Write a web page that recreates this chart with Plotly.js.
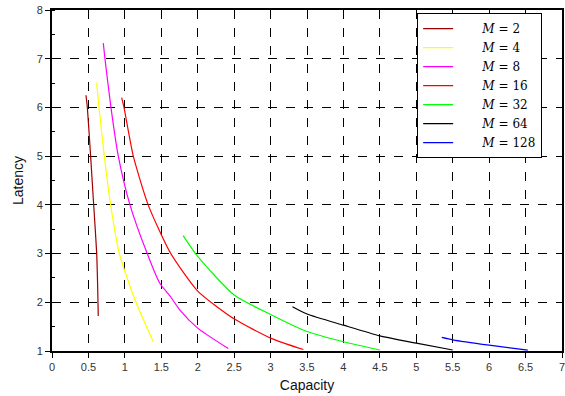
<!DOCTYPE html>
<html>
<head>
<meta charset="utf-8">
<script src="https://cdn.plot.ly/plotly-3.0.1.min.js"></script>
<style>html,body{margin:0;padding:0;background:#fff}#chart{width:565px;height:396px}</style>
</head>
<body>
<div id="chart"></div>
<script>
const seriesNames = ["M = 2", "M = 4", "M = 8", "M = 16", "M = 32", "M = 64", "M = 128"];
const colors = ["#a00000", "#ffff00", "#ff00ff", "#ff0000", "#00ff00", "#000000", "#0000ff"];

const m2x = [0.466, 0.485, 0.53, 0.57, 0.613, 0.626, 0.635];
const m2y = [6.25, 6.0, 5.0, 4.05, 3.02, 2.37, 1.72];
const m4x = [0.613, 0.645, 0.718, 0.805, 0.924, 1.152, 1.39];
const m4y = [6.51, 6.0, 5.0, 4.0, 3.0, 2.0, 1.19];
const m8x = [0.704, 0.727, 0.809, 0.91, 1.07, 1.307, 1.48, 1.619, 1.756, 2.0, 2.42];
const m8y = [7.32, 7.0, 6.0, 5.0, 4.0, 3.0, 2.39, 2.13, 1.84, 1.47, 1.05];
const m16x = [0.956, 0.988, 1.116, 1.32, 1.619, 2.0, 2.51, 3.01, 3.45];
const m16y = [6.2, 6.0, 5.0, 4.0, 3.03, 2.23, 1.65, 1.26, 1.03];
const m32x = [1.80, 2.0, 2.5, 3.0, 3.5, 4.0, 4.5];
const m32y = [3.37, 2.94, 2.15, 1.75, 1.40, 1.19, 1.02];
const m64x = [3.30, 3.5, 4.0, 4.5, 5.0, 5.5];
const m64y = [1.91, 1.76, 1.53, 1.31, 1.16, 1.02];
const m128x = [5.35, 5.5, 6.0, 6.53];
const m128y = [1.28, 1.23, 1.12, 1.02];

const xs = [m2x, m4x, m8x, m16x, m32x, m64x, m128x];
const ys = [m2y, m4y, m8y, m16y, m32y, m64y, m128y];

const legendLabels = seriesNames.map(n => "&#8195;&#8195;" + n.replace("M", "<i>M</i>").replace(" = ", "&#8196;=&#8196;"));

const traces = xs.map((x, i) => ({
  x: x, y: ys[i], type: "scatter", mode: "lines",
  name: legendLabels[i],
  line: {color: colors[i], width: 1.2, shape: "spline", smoothing: 0.6}
}));

const tickFont = {family: "Liberation Sans, Arial, sans-serif", size: 11, color: "#333"};

const layout = {
  width: 565, height: 396,
  margin: {l: 52, r: 3, t: 10, b: 45},
  paper_bgcolor: "#fff", plot_bgcolor: "#fff",
  showlegend: true,
  legend: {
    x: 0.716, y: 0.991, xanchor: "left", yanchor: "top",
    bgcolor: "#fff", bordercolor: "#000", borderwidth: 1,
    font: {family: "DejaVu Serif, Liberation Serif, serif", size: 12, color: "#000"},
    tracegroupgap: 0
  },
  xaxis: {
    range: [0, 7], dtick: 0.5, tick0: 0,
    showline: true, linecolor: "#000", linewidth: 2, mirror: true,
    ticks: "outside", ticklen: 5, tickcolor: "#000", tickwidth: 1,
    ticklabeloverflow: "allow",
    showgrid: true, gridcolor: "#000", griddash: "dash", gridwidth: 1,
    zeroline: false, tickfont: tickFont,
    title: {text: "Capacity", font: {family: "Liberation Sans, Arial, sans-serif", size: 14, color: "#111"}, standoff: 8}
  },
  yaxis: {
    range: [1, 8], dtick: 1, tick0: 0,
    showline: true, linecolor: "#000", linewidth: 2, mirror: true,
    ticks: "outside", ticklen: 5, tickcolor: "#000", tickwidth: 1,
    minor: {dtick: 0.5, ticks: "inside", ticklen: 3, tickcolor: "#000", showgrid: false},
    showgrid: true, gridcolor: "#000", griddash: "dash", gridwidth: 1,
    zeroline: false, tickfont: tickFont,
    title: {text: "Latency", font: {family: "Liberation Sans, Arial, sans-serif", size: 14, color: "#111"}, standoff: 10}
  }
};

Plotly.newPlot("chart", traces, layout, {staticPlot: true, displayModeBar: false});
</script>
</body>
</html>
